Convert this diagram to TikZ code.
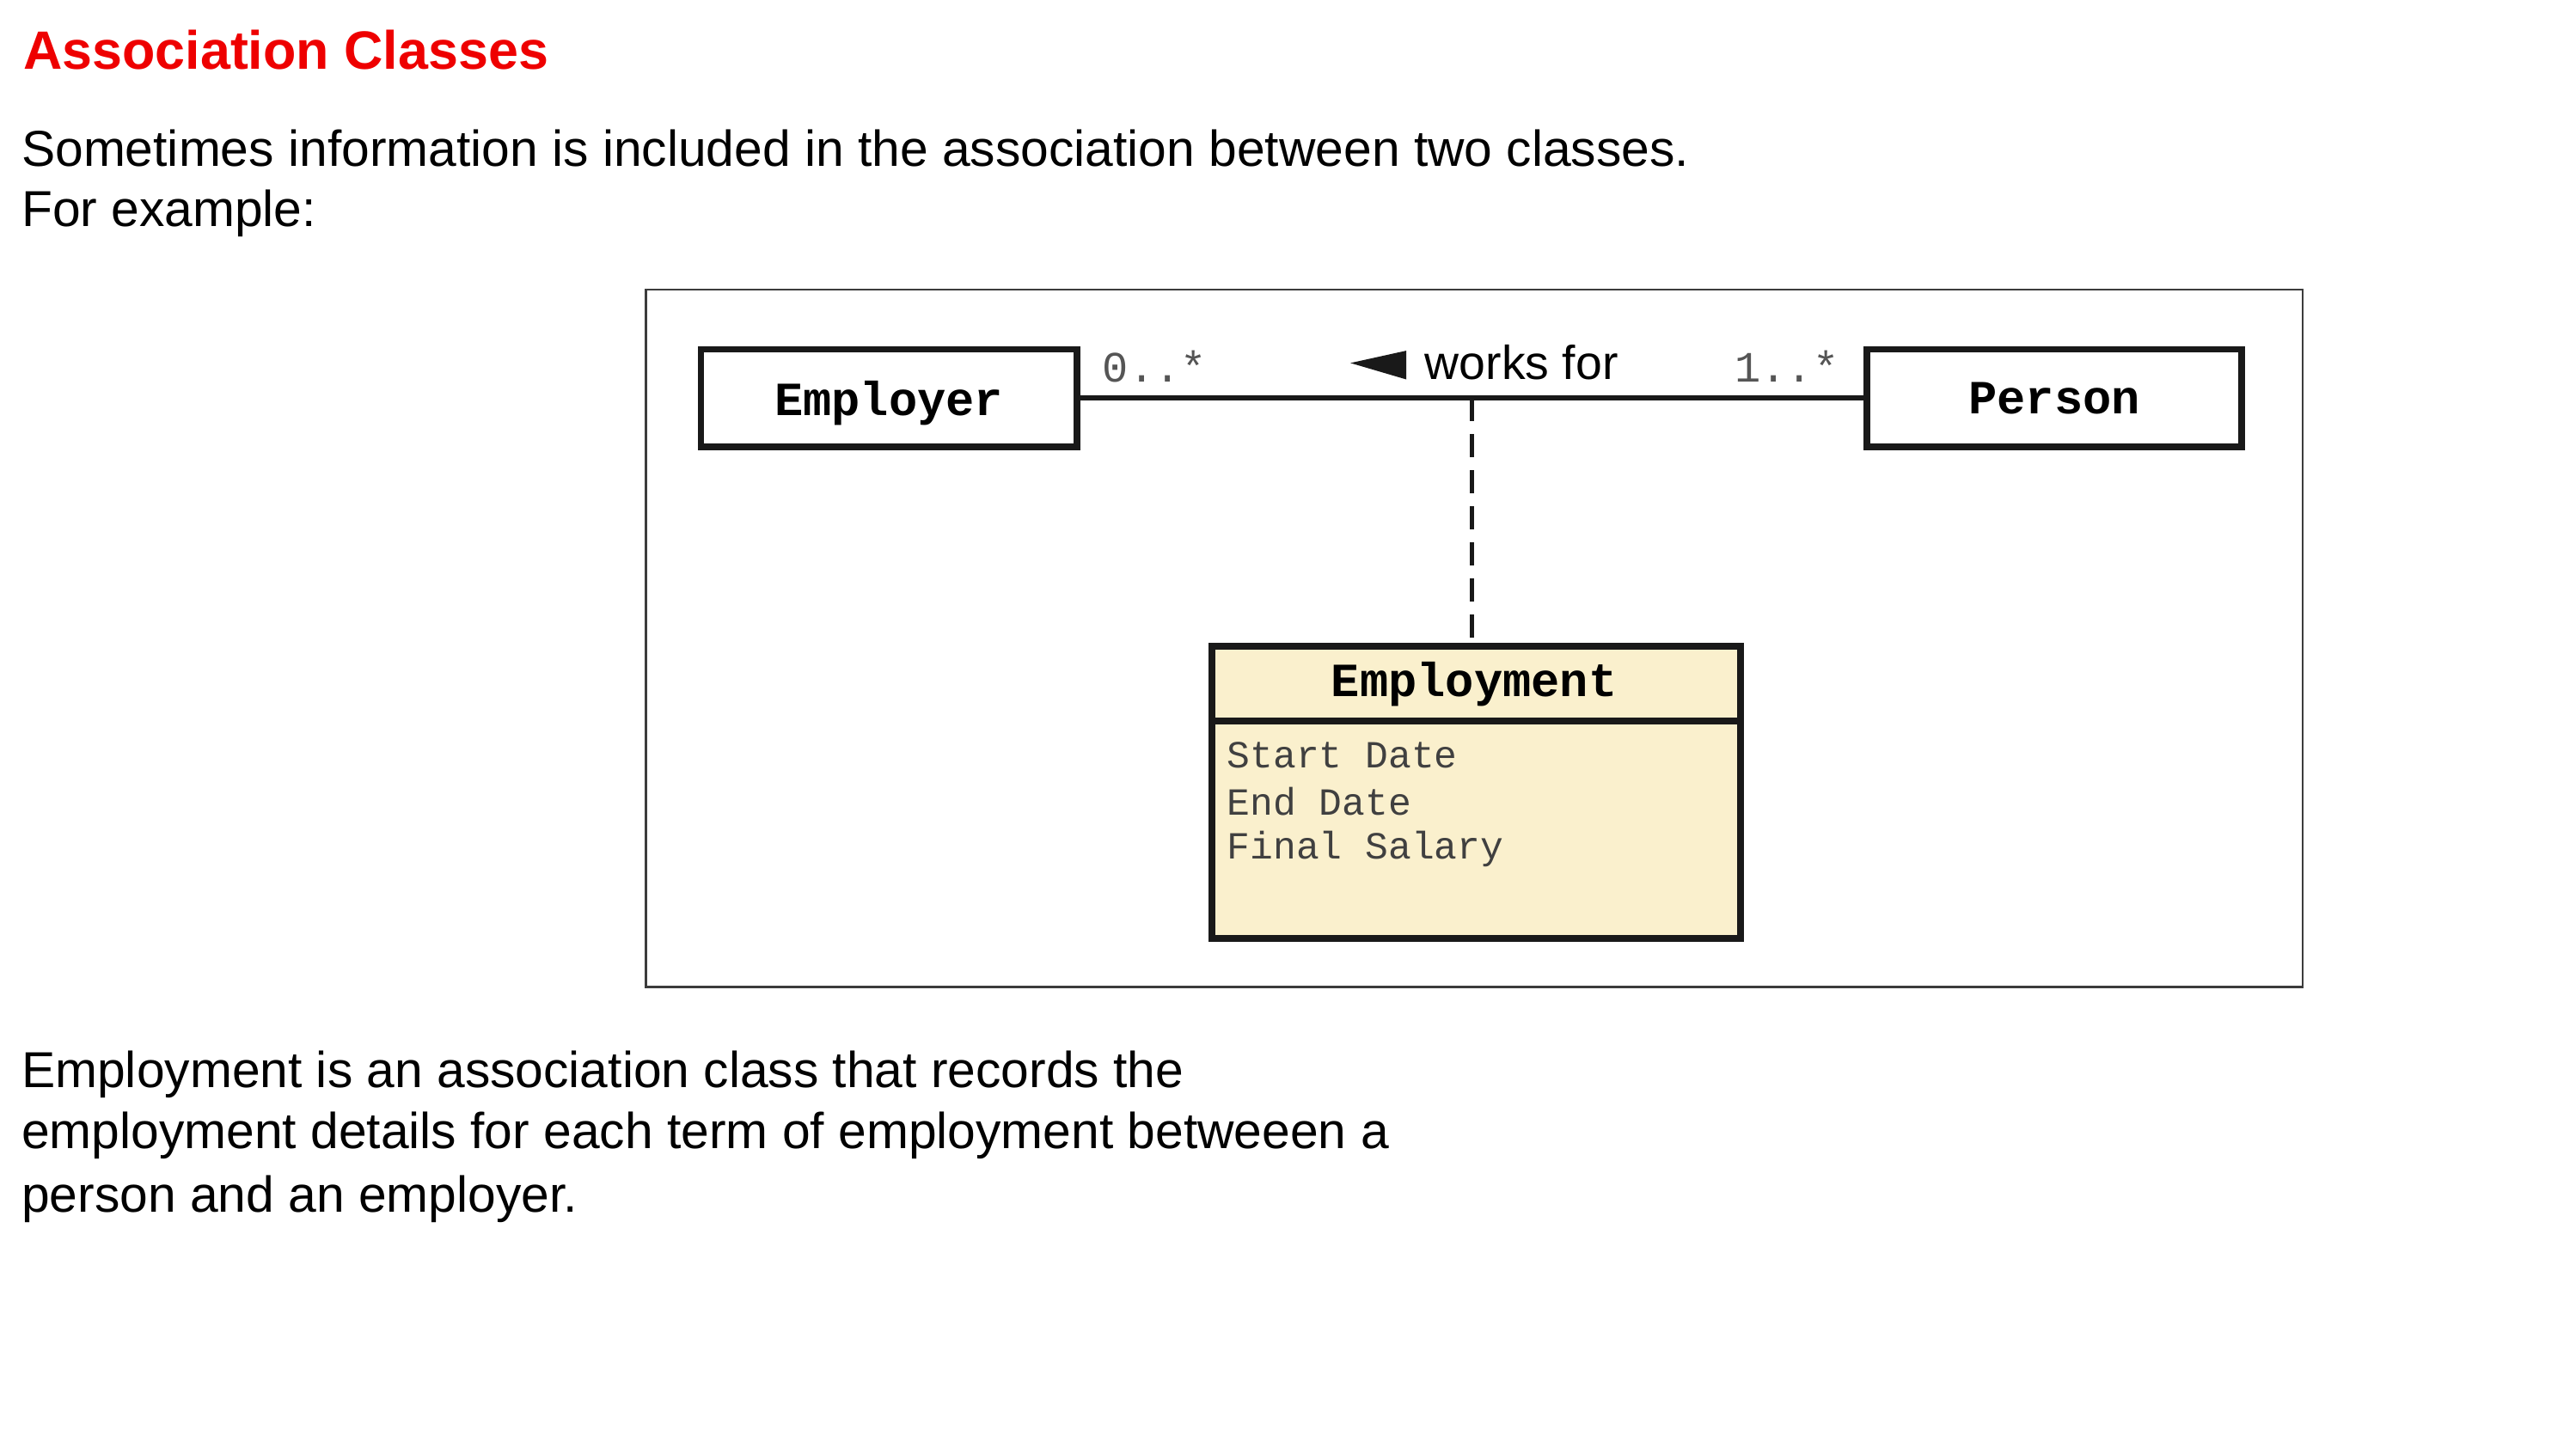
\documentclass[tikz,border=0pt]{standalone}
\usepackage{fontspec}
\setmainfont{Liberation Sans}
\setmonofont{Liberation Mono}
\usetikzlibrary{calc}
\definecolor{titlered}{HTML}{EE0000}
\definecolor{classcream}{HTML}{FAF0CD}
\definecolor{framegray}{HTML}{3C3C3C}
\definecolor{multgray}{HTML}{555555}

\begin{document}
\begin{tikzpicture}[
  x=0.02cm, y=-0.02cm,
  heading/.style={anchor=base west, inner sep=0pt, text=titlered, font=\fontsize{18.7}{22}\selectfont\bfseries},
  bodyline/.style={anchor=base west, inner sep=0pt, font=\fontsize{17.5}{21}\selectfont},
  diagramframe/.style={draw=framegray, line width=0.03cm, inner sep=0pt, minimum width=20.174cm, minimum height=8.494cm},
  classbox/.style={draw=black!90, line width=0.08cm, inner sep=0pt, text depth=0pt, font=\fontsize{16.5}{20}\selectfont\ttfamily\bfseries},
  classname/.style={anchor=base, inner sep=0pt, font=\fontsize{16.5}{20}\selectfont\ttfamily\bfseries},
  attribute/.style={anchor=base west, inner sep=0pt, text=black!75, font=\fontsize{13.3}{16}\selectfont\ttfamily},
  multiplicity/.style={inner sep=0pt, text=multgray, font=\fontsize{15}{18}\selectfont\ttfamily},
  assoclabel/.style={anchor=base west, inner sep=0pt, font=\fontsize{16.5}{20}\selectfont},
  assocline/.style={draw=black!90, line width=0.06cm},
  dashedlink/.style={draw=black!90, line width=0.06cm, dash pattern=on 0.28cm off 0.16cm}
]
\useasboundingbox (0,0) rectangle (1568,874);

\node[heading] (title) at (13.9,41.9) {Association Classes};
\node[bodyline] (introone) at (12.8,101) {Sometimes information is included in the association between two classes.};
\node[bodyline] (introtwo) at (12.8,137.8) {For example:};

\node[diagramframe] (frame) at (897.35,388.65) {};

\node[classbox, minimum width=4.576cm, minimum height=1.188cm] (employer) at (541.1,242.3) {Employer};
\node[classbox, minimum width=4.562cm, minimum height=1.188cm] (person) at (1250.5,242.3) {Person};
\draw[assocline] (employer.east) -- (person.west);

\node[multiplicity, anchor=base west] (multemployer) at (670.8,232.8) {0..*};
\node[multiplicity, anchor=base east] (multperson) at (1119.6,232.8) {1..*};
\fill[black!90] (822,221) -- (856,213.5) -- (856,231) -- cycle;
\node[assoclabel] (worksfor) at (867,231) {works for};

\node[classbox, fill=classcream, minimum width=6.436cm, minimum height=3.564cm] (employment) at (898.7,482.4) {};
\coordinate (headsep) at (0,439);
\draw[draw=black!90, line width=0.08cm] (employment.west |- headsep) -- (employment.east |- headsep);
\node[classname] (employmentname) at (897.3,423.8) {Employment};
\node[attribute] (startdate) at (746.6,467.3) {Start Date};
\node[attribute] (enddate) at (746.6,496) {End Date};
\node[attribute] (finalsalary) at (746.6,522.8) {Final Salary};

\coordinate (assocmid) at ($(employer.east)!0.5!(person.west)$);
\draw[dashedlink] (assocmid) -- (assocmid |- employment.north);

\node[bodyline] (noteone) at (12.8,662) {Employment is an association class that records the};
\node[bodyline] (notetwo) at (12.8,699.5) {employment details for each term of employment betweeen a};
\node[bodyline] (notethree) at (12.8,737.7) {person and an employer.};
\end{tikzpicture}
\end{document}
